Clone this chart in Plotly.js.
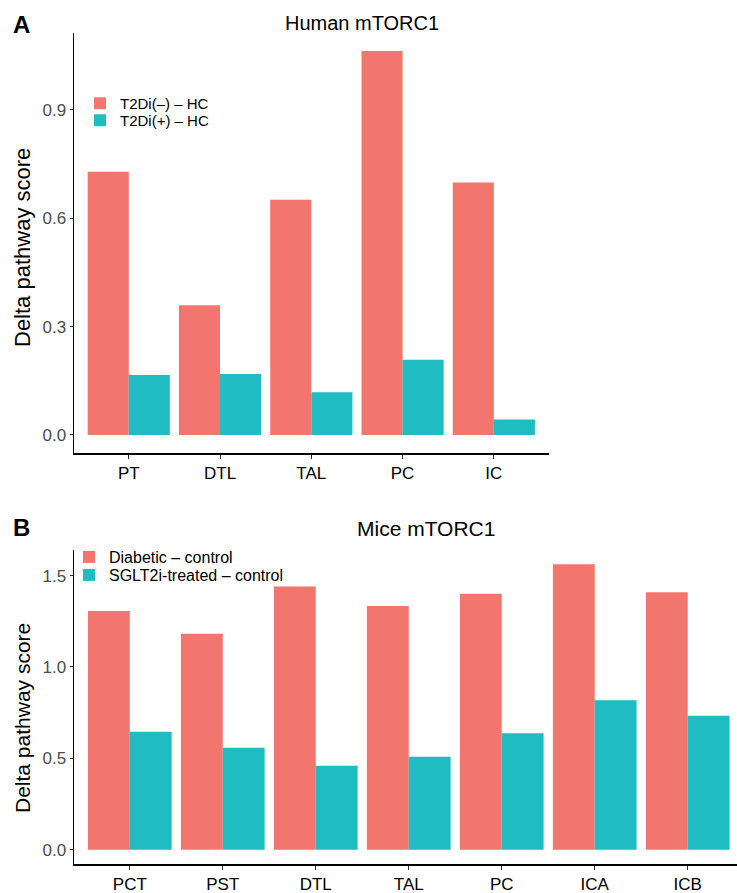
<!DOCTYPE html>
<html>
<head>
<meta charset="utf-8">
<script src="https://cdn.plot.ly/plotly-3.0.1.min.js"></script>
<style>html,body{margin:0;padding:0;background:#fff;}#chart{width:737px;height:893px;}</style>
</head>
<body>
<div id="chart"></div>
<script>
// Panel A: Human mTORC1
const humanCategories = ["PT", "DTL", "TAL", "PC", "IC"];
const humanT2DiNeg = [0.729, 0.359, 0.651, 1.063, 0.699];
const humanT2DiPos = [0.166, 0.169, 0.118, 0.208, 0.043];
const humanTicks = [0.0, 0.3, 0.6, 0.9];

// Panel B: Mice mTORC1
const miceCategories = ["PCT", "PST", "DTL", "TAL", "PC", "ICA", "ICB"];
const miceDiabetic = [1.306, 1.182, 1.440, 1.333, 1.400, 1.562, 1.409];
const miceSGLT2i = [0.645, 0.558, 0.460, 0.509, 0.638, 0.818, 0.733];
const miceTicks = [0.0, 0.5, 1.0, 1.5];

const RED = "#F2766D";
const TEAL = "#1FBDC1";
const FONT = "Liberation Sans, Arial, Helvetica, sans-serif";
const W = 737, H = 893;
const px = v => v / W;
const py = v => (H - v) / H;

const traces = [
  {type: "bar", x: humanCategories, y: humanT2DiNeg, name: "T2Di(\u2013) \u2013 HC", marker: {color: RED}, xaxis: "x", yaxis: "y", legend: "legend", showlegend: true},
  {type: "bar", x: humanCategories, y: humanT2DiPos, name: "T2Di(+) \u2013 HC", marker: {color: TEAL}, xaxis: "x", yaxis: "y", legend: "legend2", showlegend: true},
  {type: "bar", x: miceCategories, y: miceDiabetic, name: "Diabetic \u2013 control", marker: {color: RED}, xaxis: "x2", yaxis: "y2", legend: "legend3", showlegend: true},
  {type: "bar", x: miceCategories, y: miceSGLT2i, name: "SGLT2i-treated \u2013 control", marker: {color: TEAL}, xaxis: "x2", yaxis: "y2", legend: "legend4", showlegend: true}
];

const xCommon = {
  type: "category", showline: true, linecolor: "#000", linewidth: 1.5,
  ticks: "outside", ticklen: 4, tickcolor: "#333", tickwidth: 1,
  showgrid: false, zeroline: false, fixedrange: true,
  tickfont: {family: FONT, size: 17, color: "#000"}
};
const yCommon = {
  showline: true, linecolor: "#000", linewidth: 1.5,
  ticks: "outside", ticklen: 3, tickcolor: "#333", tickwidth: 1,
  showgrid: false, zeroline: false, tickformat: ".1f",
  tickfont: {family: FONT, size: 17, color: "#4D4D4D"}
};

function leg(xPx, topPx, size) {
  return {visible: true, x: px(xPx), y: py(topPx), xanchor: "left", yanchor: "top", bgcolor: "rgba(0,0,0,0)",
          font: {family: FONT, size: size, color: "#000"}, tracegroupgap: 0, itemwidth: 30};
}

const layout = {
  width: W, height: H,
  margin: {l: 0, r: 0, t: 0, b: 0},
  paper_bgcolor: "#fff", plot_bgcolor: "#fff",
  showlegend: true,
  barmode: "group", bargap: 0.1, bargroupgap: 0,
  font: {family: FONT},
  xaxis: Object.assign({}, xCommon, {domain: [px(74), px(548.6)], range: [-0.6, 4.6], anchor: "y"}),
  yaxis: Object.assign({}, yCommon, {domain: [py(453), py(33)], range: [-0.05, 1.113], tickvals: humanTicks, anchor: "x"}),
  xaxis2: Object.assign({}, xCommon, {domain: [px(74), 1], range: [-0.6, 6.53], anchor: "y2"}),
  yaxis2: Object.assign({}, yCommon, {domain: [py(864), py(550)], range: [-0.078, 1.64], tickvals: miceTicks, anchor: "x2"}),
  legend: leg(80, 87, 15),
  legend2: leg(80, 104, 15),
  legend3: leg(69, 540, 16),
  legend4: leg(69, 558, 16),
  annotations: [
    {text: "<b>A</b>", xref: "paper", yref: "paper", x: px(21), y: py(25), xanchor: "center", yanchor: "middle", showarrow: false, font: {family: FONT, size: 24, color: "#000"}},
    {text: "<b>B</b>", xref: "paper", yref: "paper", x: px(21), y: py(527), xanchor: "center", yanchor: "middle", showarrow: false, font: {family: FONT, size: 24, color: "#000"}},
    {text: "Human mTORC1", xref: "paper", yref: "paper", x: px(362), y: py(23), xanchor: "center", yanchor: "middle", showarrow: false, font: {family: FONT, size: 20, color: "#000"}},
    {text: "Mice mTORC1", xref: "paper", yref: "paper", x: px(426), y: py(528), xanchor: "center", yanchor: "middle", showarrow: false, font: {family: FONT, size: 21, color: "#000"}},
    {text: "Delta pathway score", xref: "paper", yref: "paper", x: px(22), y: py(248), xanchor: "center", yanchor: "middle", textangle: -90, showarrow: false, font: {family: FONT, size: 22, color: "#000"}},
    {text: "Delta pathway score", xref: "paper", yref: "paper", x: px(22), y: py(718), xanchor: "center", yanchor: "middle", textangle: -90, showarrow: false, font: {family: FONT, size: 21, color: "#000"}}
  ]
};

Plotly.newPlot("chart", traces, layout, {displayModeBar: false, staticPlot: true});
</script>
</body>
</html>
